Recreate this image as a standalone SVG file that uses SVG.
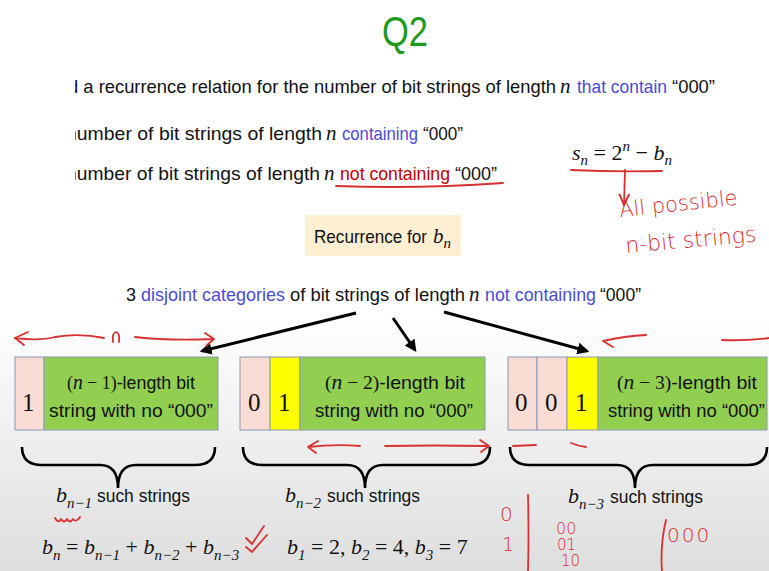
<svg xmlns="http://www.w3.org/2000/svg" width="769" height="571" viewBox="0 0 769 571">
<defs>
<linearGradient id="bg" x1="0" y1="0" x2="0" y2="1">
<stop offset="0" stop-color="#ffffff"/>
<stop offset="0.55" stop-color="#ffffff"/>
<stop offset="1" stop-color="#dedede"/>
</linearGradient>
<marker id="ah" viewBox="0 0 10 10" refX="8" refY="5" markerWidth="4" markerHeight="4" orient="auto" markerUnits="strokeWidth">
<path d="M0,0 L10,5 L0,10 z" fill="#000"/>
</marker>
<marker id="rh" viewBox="0 0 10 10" refX="9" refY="5" markerWidth="7" markerHeight="7" orient="auto" markerUnits="strokeWidth">
<path d="M0,1 L9,5 L0,9" fill="none" stroke="#d02a2a" stroke-width="1.5"/>
</marker>
<clipPath id="lc"><rect x="75" y="0" width="694" height="571"/></clipPath>
<style>
.s{font-family:"Liberation Sans",Arial,sans-serif;font-size:19px;fill:#111}
.m{font-family:"Liberation Serif","Times New Roman",serif;font-style:italic;font-size:21px;fill:#111}
.d{font-family:"Liberation Serif","Times New Roman",serif;font-size:25px;fill:#111}
.sub{font-size:15px}
.blue{fill:#4b4bd8}
.red{fill:#c00000}
.hw{font-family:"DejaVu Sans",sans-serif;fill:#d83030;font-weight:300}
.pen{fill:none;stroke:#d83030;stroke-width:1.8;stroke-linecap:round;stroke-linejoin:round}
.cell{stroke:#8a98b8;stroke-width:1}
.pink{fill:#f9dcd3}
.yel{fill:#ffff00}
.grn{fill:#92cf50}
.brace{fill:none;stroke:#000;stroke-width:2.6}
.arr{stroke:#000;stroke-width:3;marker-end:url(#ah)}
</style>
</defs>
<rect x="0" y="0" width="769" height="571" fill="url(#bg)"/>

<g id="title">
<text x="382" y="46" textLength="46" lengthAdjust="spacingAndGlyphs" style="font-family:'Liberation Sans',Arial,sans-serif;font-size:42px;fill:#1e9a1e">Q2</text>
</g>

<g id="lines" clip-path="url(#lc)">
<text class="s" x="68" y="93" textLength="488" lengthAdjust="spacingAndGlyphs">d a recurrence relation for the number of bit strings of length</text>
<text class="m" x="560" y="93">n</text>
<text class="s blue" x="577" y="93" textLength="90" lengthAdjust="spacingAndGlyphs">that contain</text>
<text class="s" x="672" y="93" textLength="43" lengthAdjust="spacingAndGlyphs">“000”</text>

<text class="s" x="66" y="140" textLength="256" lengthAdjust="spacingAndGlyphs">number of bit strings of length</text>
<text class="m" x="326" y="140">n</text>
<text class="s blue" x="342" y="140" textLength="76" lengthAdjust="spacingAndGlyphs">containing</text>
<text class="s" x="423" y="140" textLength="40" lengthAdjust="spacingAndGlyphs">“000”</text>

<text class="s" x="66" y="180" textLength="254" lengthAdjust="spacingAndGlyphs">number of bit strings of length</text>
<text class="m" x="324" y="180">n</text>
<text class="s red" x="340" y="180" textLength="110" lengthAdjust="spacingAndGlyphs">not containing</text>
<text class="s" x="455" y="180" textLength="42" lengthAdjust="spacingAndGlyphs">“000”</text>
</g>
<path class="pen" d="M336,186 Q420,189 503,183"/>

<g id="formula">
<text class="m" x="572" y="160" style="font-size:22px">s<tspan class="sub" dy="5">n</tspan><tspan dy="-5" style="font-style:normal"> = 2</tspan><tspan class="sub" dy="-9">n</tspan><tspan dy="9" style="font-style:normal"> − </tspan>b<tspan class="sub" dy="5">n</tspan></text>
<path class="pen" d="M571,170 Q615,172 662,171"/>
<path class="pen" d="M625,170 L624,205" marker-end="url(#rh)"/>
<text class="hw" x="620" y="217" font-size="21" transform="rotate(-6 620 217)">All possible</text>
<text class="hw" x="626" y="253" font-size="22" transform="rotate(-5 626 253)">n-bit strings</text>
</g>

<g id="recurrence">
<rect x="305" y="215" width="156" height="41" fill="#fcefd2"/>
<text class="s" x="314" y="243" textLength="113" lengthAdjust="spacingAndGlyphs">Recurrence for</text>
<text class="m" x="433" y="243">b<tspan class="sub" dy="5">n</tspan></text>
</g>

<g id="categories">
<text class="s" x="126" y="301" textLength="10" lengthAdjust="spacingAndGlyphs">3</text>
<text class="s blue" x="141" y="301" textLength="144" lengthAdjust="spacingAndGlyphs">disjoint categories</text>
<text class="s" x="290" y="301" textLength="175" lengthAdjust="spacingAndGlyphs">of bit strings of length</text>
<text class="m" x="469" y="301">n</text>
<text class="s blue" x="485" y="301" textLength="111" lengthAdjust="spacingAndGlyphs">not containing</text>
<text class="s" x="600" y="301" textLength="41" lengthAdjust="spacingAndGlyphs">“000”</text>
</g>

<g id="connectors">
<line class="arr" x1="356" y1="313" x2="202" y2="351"/>
<line class="arr" x1="393" y1="318" x2="415" y2="350"/>
<line class="arr" x1="444" y1="312" x2="587" y2="351"/>
</g>

<g id="pen-arrows">
<path class="pen" d="M28,332 L15,338 Q40,341 55,337 Q80,333 104,338"/>
<path class="pen" d="M15,338 L24,345"/>
<path class="pen" d="M113,342 Q112,333 116,332 Q120,333 119,342"/>
<path class="pen" d="M135,337 Q170,341 213,339 M205,333 L214,339 L206,346"/>
<path class="pen" d="M646,335 Q625,336 603,341 M603,341 L613,347"/>
<path class="pen" d="M722,340 Q745,341 769,338"/>
<path class="pen" d="M360,446 Q335,444 308,447 L316,453 M308,447 L318,441"/>
<path class="pen" d="M385,446 Q430,445 488,446 M480,440 L489,446 L481,452"/>
<path class="pen" d="M513,446 L536,445"/>
<path class="pen" d="M571,443 Q578,446 586,447"/>
</g>

<g id="box1">
<rect class="cell pink" x="15" y="357" width="29" height="73"/>
<rect class="cell grn" x="44" y="357" width="174" height="73"/>
<text class="d" x="22" y="411">1</text>
<text class="s" x="67" y="389" textLength="128" lengthAdjust="spacingAndGlyphs"><tspan style="font-family:'Liberation Serif',serif">(</tspan><tspan class="m">n</tspan><tspan style="font-family:'Liberation Serif',serif"> − 1)</tspan>-length bit</text>
<text class="s" x="49" y="417" textLength="164" lengthAdjust="spacingAndGlyphs">string with no “000”</text>
</g>

<g id="box2">
<rect class="cell pink" x="240" y="357" width="30" height="73"/>
<rect class="cell yel" x="270" y="357" width="30" height="73"/>
<rect class="cell grn" x="300" y="357" width="185" height="73"/>
<text class="d" x="248" y="411">0</text>
<text class="d" x="278" y="411">1</text>
<text class="s" x="325" y="389" textLength="140" lengthAdjust="spacingAndGlyphs"><tspan style="font-family:'Liberation Serif',serif">(</tspan><tspan class="m">n</tspan><tspan style="font-family:'Liberation Serif',serif"> − 2)</tspan>-length bit</text>
<text class="s" x="315" y="417" textLength="158" lengthAdjust="spacingAndGlyphs">string with no “000”</text>
</g>

<g id="box3">
<rect class="cell pink" x="508" y="357" width="29" height="73"/>
<rect class="cell pink" x="537" y="357" width="30" height="73"/>
<rect class="cell yel" x="567" y="357" width="31" height="73"/>
<rect class="cell grn" x="598" y="357" width="169" height="73"/>
<text class="d" x="515" y="411">0</text>
<text class="d" x="545" y="411">0</text>
<text class="d" x="575" y="411">1</text>
<text class="s" x="617" y="389" textLength="140" lengthAdjust="spacingAndGlyphs"><tspan style="font-family:'Liberation Serif',serif">(</tspan><tspan class="m">n</tspan><tspan style="font-family:'Liberation Serif',serif"> − 3)</tspan>-length bit</text>
<text class="s" x="608" y="417" textLength="157" lengthAdjust="spacingAndGlyphs">string with no “000”</text>
</g>

<g id="braces">
<path class="brace" d="M22,447 Q22,465 42,465 L100,465 Q118,465 118,488 Q118,465 136,465 L195,465 Q215,465 215,447"/>
<path class="brace" d="M243,447 Q243,465 263,465 L347,465 Q365,465 365,488 Q365,465 383,465 L470,465 Q490,465 490,447"/>
<path class="brace" d="M510,447 Q510,465 530,465 L617,465 Q635,465 635,488 Q635,465 653,465 L747,465 Q767,465 767,447"/>
</g>

<g id="labels">
<text class="m" x="56" y="502" style="font-size:22px">b<tspan class="sub" dy="6">n−1</tspan></text>
<text class="s" x="97" y="502" textLength="93" lengthAdjust="spacingAndGlyphs">such strings</text>
<text class="m" x="285" y="502" style="font-size:22px">b<tspan class="sub" dy="6">n−2</tspan></text>
<text class="s" x="327" y="502" textLength="93" lengthAdjust="spacingAndGlyphs">such strings</text>
<text class="m" x="568" y="503" style="font-size:22px">b<tspan class="sub" dy="6">n−3</tspan></text>
<text class="s" x="610" y="503" textLength="93" lengthAdjust="spacingAndGlyphs">such strings</text>
</g>

<g id="equations">
<text class="m" x="42" y="554" style="font-size:22px">b<tspan class="sub" dy="6">n</tspan><tspan dy="-6" style="font-style:normal"> = </tspan>b<tspan class="sub" dy="6">n−1</tspan><tspan dy="-6" style="font-style:normal"> + </tspan>b<tspan class="sub" dy="6">n−2</tspan><tspan dy="-6" style="font-style:normal"> + </tspan>b<tspan class="sub" dy="6">n−3</tspan></text>
<text class="m" x="287" y="554" style="font-size:22px">b<tspan class="sub" dy="6">1</tspan><tspan dy="-6" style="font-style:normal"> = 2, </tspan>b<tspan class="sub" dy="6">2</tspan><tspan dy="-6" style="font-style:normal"> = 4, </tspan>b<tspan class="sub" dy="6">3</tspan><tspan dy="-6" style="font-style:normal"> = 7</tspan></text>
</g>

<g id="pen-notes">
<path class="pen" d="M55,518 Q58,524 61,519 Q64,524 67,519 Q70,524 73,519 Q76,523 80,517"/>
<path class="pen" d="M246,538 L252,544 L264,526 M246,547 L252,552 L267,535"/>
<path class="pen" d="M528,495 Q529,535 528,571"/>
<path class="pen" d="M666,520 Q660,545 662,571"/>
<text class="hw" x="500" y="521" font-size="20">0</text>
<text class="hw" x="502" y="551" font-size="19">1</text>
<text class="hw" x="556" y="534" font-size="16">00</text>
<text class="hw" x="557" y="550" font-size="15">01</text>
<text class="hw" x="561" y="566" font-size="15">10</text>
<text class="hw" x="667" y="542" font-size="20" letter-spacing="2">000</text>
</g>
</svg>
